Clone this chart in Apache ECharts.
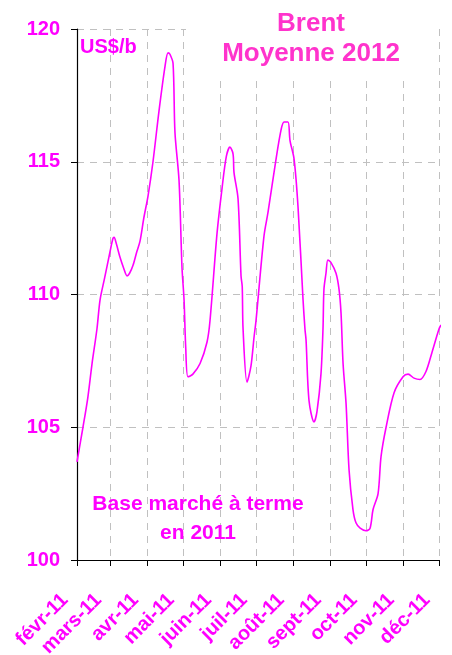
<!DOCTYPE html>
<html>
<head>
<meta charset="utf-8">
<script src="https://cdn.jsdelivr.net/npm/echarts@6/dist/echarts.min.js"></script>
<style>
  html, body { margin: 0; padding: 0; background: #fff; }
  #chart { width: 452px; height: 655px; }
</style>
</head>
<body>
<div id="chart"></div>
<script>
// mois affichés sur l'axe (jours comptés depuis le 1er février 2011)
const monthLabels = ['févr-11', 'mars-11', 'avr-11', 'mai-11', 'juin-11', 'juil-11',
  'août-11', 'sept-11', 'oct-11', 'nov-11', 'déc-11']
const monthDays = [0, 28, 59, 89, 120, 150, 181, 212, 242, 273, 303]

// courbe Brent (jour, US$/b)
const days = [0, 5, 9, 12.6, 16.7, 19.3, 23, 27.6, 30, 31, 33, 36, 39, 41.9, 44, 46.9, 50, 52.7,
  56, 59.4, 63.6, 68.6, 73.7, 76.2, 77.8, 80.4, 82, 85.4, 87.9, 89.6, 91, 92.9, 97, 103, 108.8,
  111.3, 117.2, 121.4, 125, 128, 130.6, 131.4, 134.8, 137.3, 138.3, 139, 142.3, 145.6, 148.2,
  149.8, 156.5, 159.9, 166.6, 170.8, 173.3, 176.6, 178.3, 181.7, 185, 189.2, 190.8, 191.7,
  194.2, 198.4, 200.9, 204.2, 205.9, 206.7, 208.4, 210, 212.6, 216.8, 219.3, 221, 222.7,
  225.2, 227.7, 231, 233.5, 237, 241.9, 245.3, 247.8, 252, 254.5, 258.7, 265.4, 272.9,
  277.1, 282.1, 287.1, 292.1, 297, 303, 304.7]
const prices = [103.7, 105.0, 106.1, 107.4, 108.7, 109.8, 110.6, 111.6, 112.1, 112.15, 111.9, 111.4,
  111.0, 110.7, 110.8, 111.1, 111.6, 112.0, 112.9, 113.7, 115.0, 116.9, 118.6, 119.1, 119.05,
  118.7, 116.1, 114.3, 111.0, 109.8, 108.0, 106.9, 107.0, 107.4, 108.2,
  109.0, 112.3, 114.0, 115.2, 115.55, 115.3, 114.6, 113.6, 110.7, 110.3, 108.7, 106.7, 107.3, 108.4,
  109.0, 112.2, 113.1, 115.1, 116.2, 116.5, 116.5, 115.8, 115.1, 113.3, 109.8, 108.7, 108.3,
  106.0, 105.2, 105.6, 107.0, 108.7, 110.2, 110.8, 111.3, 111.2, 110.8, 110.2, 109.3, 107.4,
  105.9, 103.4, 101.9, 101.4, 101.2, 101.1, 101.2, 101.9, 102.5, 103.9, 105.0, 106.3, 106.9,
  107.0, 106.85, 106.8, 107.1, 107.8, 108.7, 108.85]

const pink = '#ff00ff'
const font = 'Arial, "Liberation Sans", sans-serif'

const chart = echarts.init(document.getElementById('chart'), null, { renderer: 'canvas' })

const option = {
  backgroundColor: '#ffffff',
  animation: false,
  grid: { left: 77, right: 13, top: 29, bottom: 95, containLabel: false, outerBoundsMode: 'none' },
  xAxis: {
    type: 'value',
    min: 0,
    max: 303,
    axisLine: { lineStyle: { color: '#000', width: 1.2 } },
    axisTick: { show: true, length: 6, customValues: monthDays, lineStyle: { color: '#000' } },
    axisLabel: {
      customValues: monthDays,
      rotate: 45,
      margin: 25,
      padding: [0, 17, 0, 0],
      color: pink,
      fontWeight: 'bold',
      fontSize: 20,
      fontFamily: font,
      formatter: v => monthLabels[monthDays.indexOf(v)]
    },
    splitLine: { show: true, lineStyle: { color: '#c0c0c0', type: [7, 6] } }
  },
  yAxis: {
    type: 'value',
    min: 100,
    max: 120,
    interval: 5,
    axisLine: { show: true, lineStyle: { color: '#000', width: 1.2 } },
    axisTick: { show: true, length: 6, lineStyle: { color: '#000' } },
    axisLabel: { color: pink, fontWeight: 'bold', fontSize: 20, fontFamily: font, margin: 17 },
    splitLine: { show: true, lineStyle: { color: '#c0c0c0', type: [7, 6] } }
  },
  series: [{
    type: 'line',
    data: days.map((d, i) => [d, prices[i]]),
    showSymbol: false,
    smooth: 0.3,
    lineStyle: { color: pink, width: 1.6 },
    z: 3
  }],
  graphic: [
    { type: 'rect', shape: { x: 186, y: 0, width: 250, height: 81 }, style: { fill: '#fff' }, z: 10 },
    {
      type: 'text', x: 311, y: 9, z: 11,
      style: {
        text: 'Brent\nMoyenne 2012', fill: '#ff33cc', font: 'bold 26px ' + font,
        align: 'center', verticalAlign: 'top', lineHeight: 30
      }
    },
    {
      type: 'text', x: 80, y: 37, z: 11,
      style: { text: 'US$/b', fill: pink, font: 'bold 20px ' + font }
    },
    {
      type: 'text', x: 198, y: 490, z: 11,
      style: {
        text: 'Base marché à terme\nen 2011', fill: pink, font: 'bold 21px ' + font,
        align: 'center', lineHeight: 29
      }
    }
  ]
}

chart.setOption(option)
</script>
</body>
</html>
